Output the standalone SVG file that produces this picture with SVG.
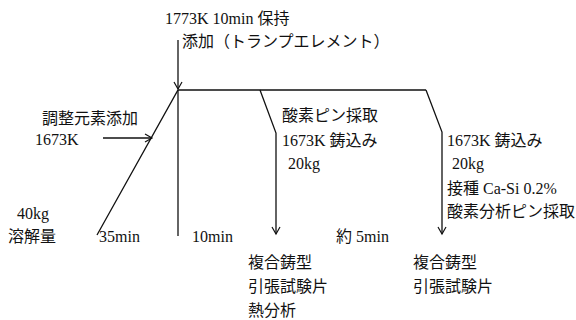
<svg xmlns="http://www.w3.org/2000/svg" width="576" height="320" viewBox="0 0 576 320">
<style>
text{font-family:"Liberation Serif","Noto Sans CJK JP",serif;font-size:16px;fill:#111}
.ln{stroke:#111;stroke-width:1.3;fill:none}
</style>
<defs>
<marker id="ah" markerWidth="10" markerHeight="10" refX="8" refY="5" orient="auto" markerUnits="userSpaceOnUse">
<polyline points="1,1 8,5 1,9" fill="none" stroke="#111" stroke-width="1.2"/>
</marker>
</defs>
<rect width="576" height="320" fill="#fff"/>
<g id="connectors">
<line class="ln" x1="178" y1="40" x2="178" y2="89" marker-end="url(#ah)"/>
<polyline class="ln" points="97,235 178,90 426,90"/>
<line class="ln" x1="178" y1="90" x2="178" y2="236"/>
<line class="ln" x1="103" y1="138" x2="152" y2="138" marker-end="url(#ah)"/>
<polyline class="ln" points="260,90 276,133 276,234" marker-end="url(#ah)"/>
<polyline class="ln" points="426,90 442,132 442,234" marker-end="url(#ah)"/>
</g>
<g id="top">
<text x="165" y="24">1773K 10min 保持</text>
<text x="182" y="47">添加（トランプエレメント）</text>
</g>
<g id="left">
<text x="42" y="124">調整元素添加</text>
<text x="35" y="145">1673K</text>
<text x="17" y="219">40kg</text>
<text x="8" y="242">溶解量</text>
<text x="99" y="242">35min</text>
<text x="192" y="242">10min</text>
<text x="336" y="242">約 5min</text>
</g>
<g id="branch1">
<text x="282" y="121">酸素ピン採取</text>
<text x="282" y="146">1673K 鋳込み</text>
<text x="288" y="169">20kg</text>
<text x="248" y="268">複合鋳型</text>
<text x="248" y="292">引張試験片</text>
<text x="248" y="316">熱分析</text>
</g>
<g id="branch2">
<text x="447" y="146">1673K 鋳込み</text>
<text x="452" y="169">20kg</text>
<text x="447" y="194">接種 Ca-Si 0.2%</text>
<text x="447" y="217">酸素分析ピン採取</text>
<text x="413" y="268">複合鋳型</text>
<text x="413" y="292">引張試験片</text>
</g>
</svg>
